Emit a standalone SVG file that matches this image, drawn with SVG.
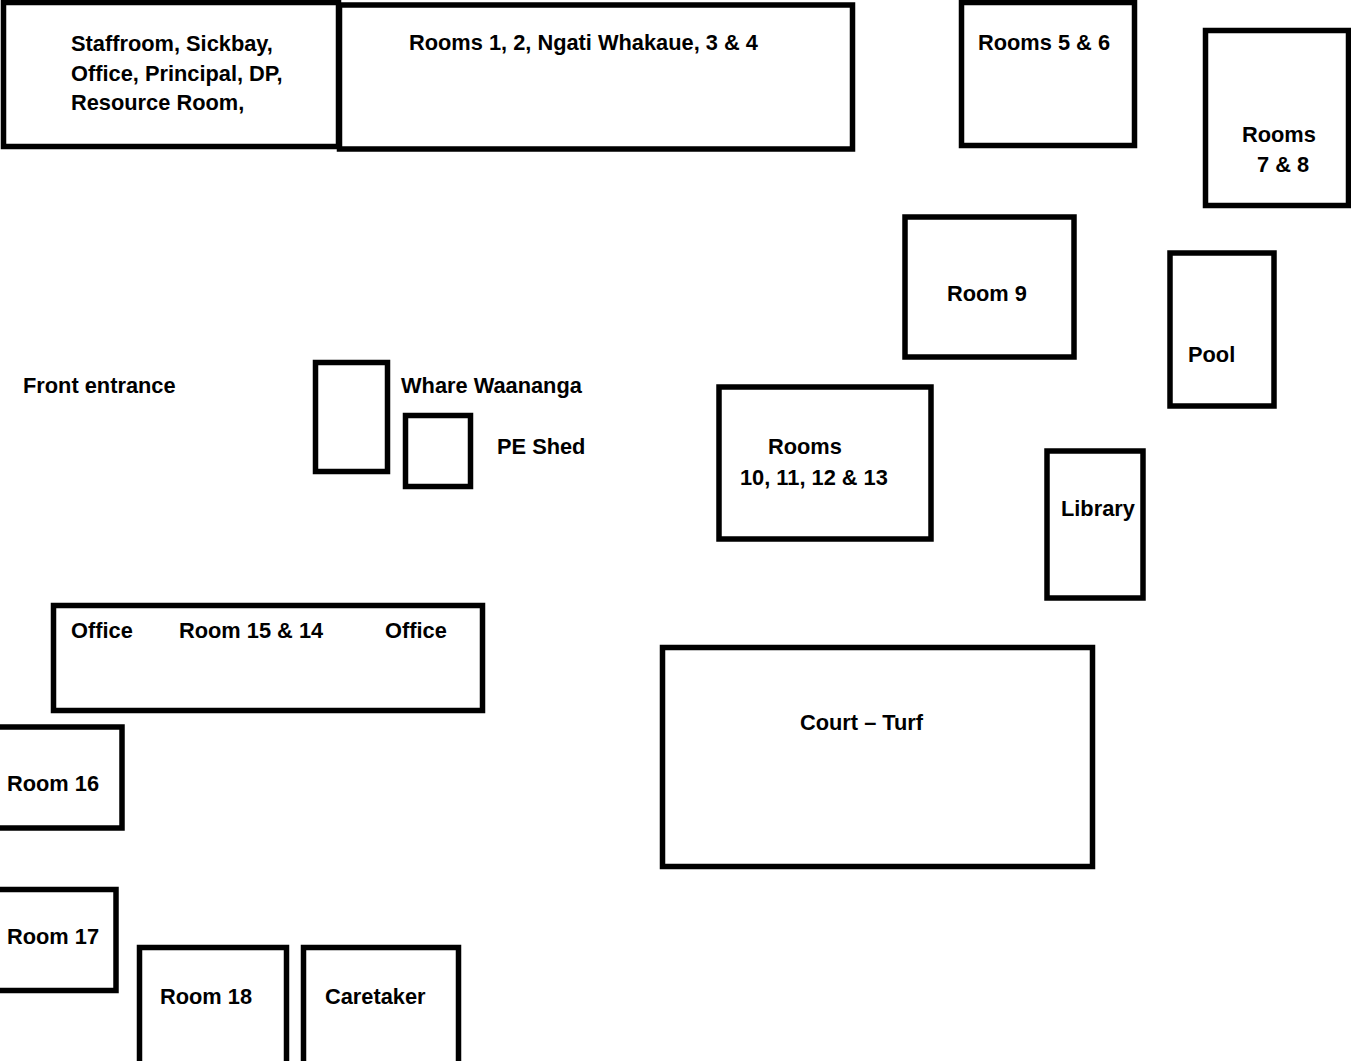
<svg xmlns="http://www.w3.org/2000/svg" width="1351" height="1061" viewBox="0 0 1351 1061">
<style>
.b{fill:#fff;stroke:#000;stroke-width:5.5}
text{font-family:"Liberation Sans",Arial,sans-serif;font-weight:bold;font-size:21.8px;fill:#000}
</style>
<rect width="1351" height="1061" fill="#fff"/>
<g id="staffroom"><rect class="b" x="3.5" y="2.5" width="335" height="144"/>
<text x="71" y="51">Staffroom, Sickbay,</text><text x="71" y="81">Office, Principal, DP,</text><text x="71" y="110">Resource Room,</text></g>
<g id="rooms1-4"><rect class="b" x="339.5" y="5" width="513" height="144"/><text x="409" y="50">Rooms 1, 2, Ngati Whakaue, 3 &amp; 4</text></g>
<g id="rooms5-6"><rect class="b" x="961.5" y="2.5" width="173" height="143"/><text x="978" y="50">Rooms 5 &amp; 6</text></g>
<g id="rooms7-8"><rect class="b" x="1205.5" y="30.5" width="143" height="175"/><text x="1242" y="142">Rooms</text><text x="1257" y="172">7 &amp; 8</text></g>
<g id="room9"><rect class="b" x="905" y="217" width="169" height="140"/><text x="947" y="301">Room 9</text></g>
<g id="pool"><rect class="b" x="1170" y="253" width="104" height="153"/><text x="1188" y="362">Pool</text></g>
<g id="front-entrance"><text x="23" y="393">Front entrance</text></g>
<g id="whare-waananga"><rect class="b" x="315.5" y="362.5" width="72" height="109"/><text x="401" y="393">Whare Waananga</text></g>
<g id="pe-shed"><rect class="b" x="405.5" y="415.5" width="65" height="71"/><text x="497" y="454">PE Shed</text></g>
<g id="rooms10-13"><rect class="b" x="719" y="387" width="212" height="152"/><text x="768" y="454">Rooms</text><text x="740" y="485">10, 11, 12 &amp; 13</text></g>
<g id="library"><rect class="b" x="1047" y="451" width="96" height="147"/><text x="1061" y="516">Library</text></g>
<g id="rooms14-15"><rect class="b" x="53.5" y="605.5" width="429" height="105"/><text x="71" y="638">Office</text><text x="179" y="638">Room 15 &amp; 14</text><text x="385" y="638">Office</text></g>
<g id="court"><rect class="b" x="662.5" y="647.5" width="430" height="219"/><text x="800" y="730">Court – Turf</text></g>
<g id="room16"><rect class="b" x="-5" y="727" width="127" height="101"/><text x="7" y="791">Room 16</text></g>
<g id="room17"><rect class="b" x="-5" y="889.5" width="121" height="101"/><text x="7" y="944">Room 17</text></g>
<g id="room18"><rect class="b" x="139.5" y="947.5" width="147" height="125"/><text x="160" y="1004">Room 18</text></g>
<g id="caretaker"><rect class="b" x="303.5" y="947.5" width="155" height="125"/><text x="325" y="1004">Caretaker</text></g>
<g id="connectors"></g>
</svg>
